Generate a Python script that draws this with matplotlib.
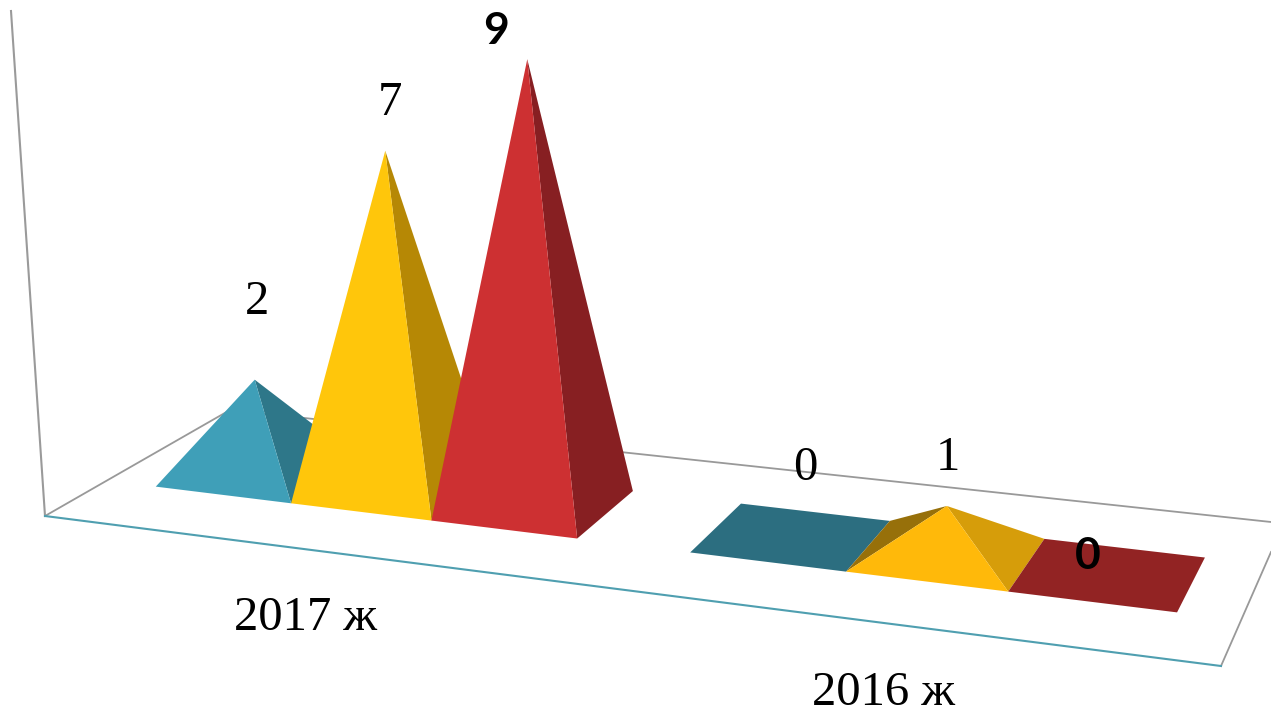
"""3D pyramid chart, drawn on a flat axes through a small floor projection."""

import matplotlib

matplotlib.use("Agg")
import matplotlib.pyplot as plt
import numpy as np
from matplotlib.patches import Polygon

CATEGORIES = ["2017 ж", "2016 ж"]
VALUES_2017 = [2, 7, 9]
VALUES_2016 = [0, 1, 0]

FRONT_COLORS = ["#3f9fb8", "#ffc60b", "#cd3032"]
RIGHT_COLORS = ["#2e7789", "#b68805", "#871f22"]
FLAT_COLORS = ["#2c6e80", "#d69d0a", "#922323"]

W, H = 1271, 713
GAP = 0.75  # free floor between the two category groups, in pyramid widths


def fit_homography(src, dst):
    rows = []
    for (x, y), (u, v) in zip(src, dst):
        u, v = u / 1000, v / 1000
        rows.append([x, y, 1, 0, 0, 0, -u * x, -u * y, -u])
        rows.append([0, 0, 0, x, y, 1, -v * x, -v * y, -v])
    return np.linalg.svd(np.array(rows))[2][-1].reshape(3, 3)


# floor units -> pixels (/1000), least squares over the base corners seen in the picture
FLOOR = fit_homography(
    [(0, 0), (1, 0), (2, 0), (3, 0), (3, 1), (3 + GAP, 0), (3 + GAP, 1),
     (4 + GAP, 0), (4 + GAP, 1), (5 + GAP, 0), (5 + GAP, 1), (6 + GAP, 0), (6 + GAP, 1)],
    [(156, 487), (291, 503), (431, 521), (577, 539), (633, 490), (690, 552), (741, 504),
     (847, 572), (890, 520), (1008, 591), (1044, 540), (1177, 612), (1205, 558)],
)


def floor_pt(x, depth):
    p = FLOOR @ np.array([x, depth, 1.0])
    return p[:2] / p[2] * 1000


def apex_pt(x, value):
    cx, cy = floor_pt(x + 0.5, 0.5)
    # height of one value unit and sideways lean of the apex along the floor
    unit = np.interp(x + 0.5, [0.5, 1.5, 2.5, 5.25], [46.5, 48.3, 49.6, 49])
    lean = np.interp(x + 0.5, [0.5, 1.5, 2.5, 5.25], [-4, -8.5, -6.5, 0])
    return np.array([cx + lean, cy - unit * value])


def pyramid(ax, x, value, idx):
    fl, fr = floor_pt(x, 0), floor_pt(x + 1, 0)
    br, bl = floor_pt(x + 1, 1), floor_pt(x, 1)
    if value == 0:
        ax.add_patch(Polygon([fl, fr, br, bl], color=FLAT_COLORS[idx], lw=0))
        return
    top = apex_pt(x, value)
    right = RIGHT_COLORS[idx]
    if value == 1:  # low pyramid, camera also sees the left face
        ax.add_patch(Polygon([fl, bl, top], color="#97700a", lw=0))
        right = FLAT_COLORS[idx]
    ax.add_patch(Polygon([fr, br, top], color=right, lw=0))
    front = "#ffb90a" if value == 1 else FRONT_COLORS[idx]
    ax.add_patch(Polygon([fl, fr, top], color=front, lw=0))


fig = plt.figure(figsize=(W / 100, H / 100), dpi=100)
ax = fig.add_axes([0, 0, 1, 1])
ax.set_xlim(0, W)
ax.set_ylim(H, 0)
ax.axis("off")

# walls and floor outline, behind the pyramids
ax.plot([11, 45], [11, 516], color="#9a9a9a", lw=1.5, zorder=0.5)
ax.plot([45, 230], [516, 410], color="#999999", lw=1.3, zorder=0.5)
ax.plot([230, 1271], [410, 522], color="#999999", lw=1.3, zorder=0.5)
ax.plot([1221, 1271], [666, 552], color="#999999", lw=1.3, zorder=0.5)
ax.plot([45, 1221], [516, 666], color="#4f9fb0", lw=1.5, zorder=0.5)

for i, v in enumerate(VALUES_2017):
    pyramid(ax, i, v, i)
for i, v in enumerate(VALUES_2016):
    pyramid(ax, 3 + GAP + i, v, i)

serif = dict(family="Liberation Serif", fontsize=35, color="black",
             ha="center", va="center")
ax.text(257, 302, str(VALUES_2017[0]), **serif)
ax.text(390, 103, str(VALUES_2017[1]), **serif)
ax.text(805, 468, str(VALUES_2016[0]), **serif)
ax.text(948, 458, str(VALUES_2016[1]), **serif)

sans = dict(family="Lato", fontsize=32, fontweight="bold", color="black",
            ha="center", va="center")
ax.text(496, 31, str(VALUES_2017[2]), **sans)
ax.text(1088, 556, str(VALUES_2016[2]), **sans)

ax.text(306, 618, CATEGORIES[0], **serif)
ax.text(883, 693, CATEGORIES[1], **serif)

fig.savefig("out.png", dpi=100)
